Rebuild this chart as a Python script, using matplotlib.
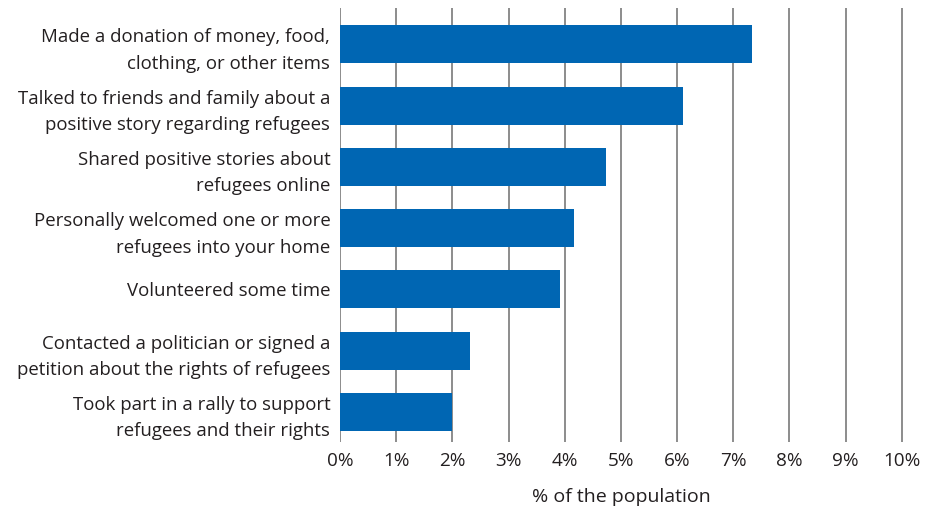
import matplotlib
matplotlib.use('Agg')
import matplotlib.pyplot as plt
from matplotlib.ticker import FuncFormatter

plt.rcParams['font.family'] = ['Open Sans', 'DejaVu Sans']

BAR_BLUE  = '#0066b3'
GRID_GREY = '#8c8c8c'
TEXT      = '#231f20'

actions = [
    'Made a donation of money, food,\nclothing, or other items',
    'Talked to friends and family about a\npositive story regarding refugees',
    'Shared positive stories about\nrefugees online',
    'Personally welcomed one or more\nrefugees into your home',
    'Volunteered some time',
    'Contacted a politician or signed a\npetition about the rights of refugees',
    'Took part in a rally to support\nrefugees and their rights',
]
share_pct = [7.33, 6.11, 4.74, 4.17, 3.92, 2.32, 1.99]
x_ticks = list(range(0, 11))

fig = plt.figure(figsize=(9.25, 5.08), dpi=100)
ax = fig.add_axes([0.3676, 0.13, 0.6086, 0.854])

ypos = list(range(len(actions)))
ax.barh(ypos, share_pct, height=0.62, color=BAR_BLUE, zorder=3)

ax.set_xlim(0, 10.02)
ax.set_ylim(len(actions) - 1 + 0.49, -0.59)
ax.set_xticks(x_ticks)
ax.xaxis.set_major_formatter(FuncFormatter(lambda v, _: f'{v:.0f}%'))
ax.set_yticks(ypos)
ax.set_yticklabels(actions, fontsize=13.4, color=TEXT, linespacing=1.6)

ax.grid(axis='x', color=GRID_GREY, linewidth=1.4, zorder=0)
for s in ax.spines.values():
    s.set_visible(False)
ax.tick_params(axis='both', length=0)
ax.tick_params(axis='x', labelsize=13.6, labelcolor=TEXT, pad=7)
ax.tick_params(axis='y', pad=7)

ax.set_xlabel('% of the population', fontsize=14, color=TEXT, labelpad=13)

fig.savefig('out.png', dpi=100)
plt.close(fig)
